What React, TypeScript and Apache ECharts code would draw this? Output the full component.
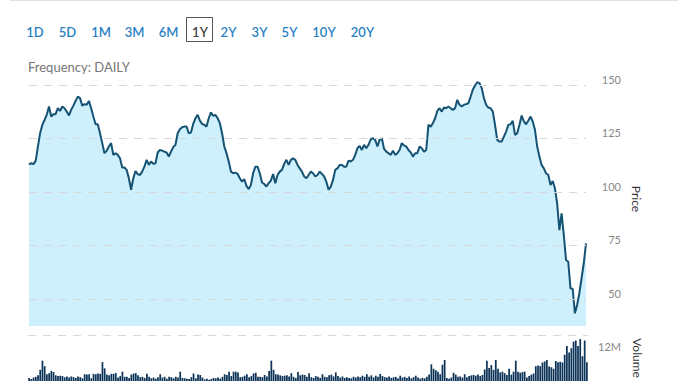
import React, { useEffect, useRef } from "react";
import * as echarts from "echarts";

// ---------- data ----------
const rangeButtons = ["1D", "5D", "1M", "3M", "6M", "1Y", "2Y", "3Y", "5Y", "10Y", "20Y"];
const selectedRange = "1Y";
const frequencyLabel = "Frequency: DAILY";
const priceTicks = [50, 75, 100, 125, 150];
const volumeTicks = [12];
const priceAxisName = "Price";
const volumeAxisName = "Volume";

// daily closing price, one year (252 trading days)
const price = [
  112.9, 113.4, 113, 114.5, 121, 127.4, 131.3, 133.6, 136, 139.9,
  135.2, 136.3, 136.3, 139.1, 137.8, 139.9, 139.1, 137.5, 135.7, 138.3,
  140.3, 142.5, 144.5, 143.8, 140.3, 141, 140.7, 142.5, 139.1, 135.2,
  131.6, 131.6, 127.4, 122.8, 118.1, 119.2, 121.2, 122.8, 117.3, 118.1,
  117.3, 115.7, 111.4, 111.4, 110.3, 106.4, 101, 106.4, 109.8, 108.3,
  107.9, 109.5,
  111.8, 115, 112.6, 114.2, 113.1, 113.4, 118.4, 119.6, 119.3, 118.8,
  118.4, 116.5, 118.8, 120.9, 122, 127.4, 129.3, 130.2, 130.5, 130.5,
  127.4, 127.7, 131.8, 134.4, 136, 133.3, 131.8, 131.3, 130.5, 134.4,
  137.1, 135.5, 136, 134.4, 132.1, 127.4, 121.2, 118.1, 114.2, 109.5,
  108.7, 109, 108.4, 106.4, 104.8, 105.9, 102.8, 101.3, 103.3, 108.7,
  111.8, 111.8,
  108.7, 104.4, 103.7, 102.5, 104.1, 105.3, 108.4, 104.1, 107.9, 109.5,
  110.3, 113.1, 115, 112.6, 115, 115.7, 115, 112.6, 111, 109.5,
  107.2, 106.4, 107.9, 109.5, 108.7, 107.2, 107.9, 109.5, 108.4, 107.2,
  104.8, 101, 102.5, 105.6, 110.3, 111, 112.6, 112.6, 111.8, 111.8,
  114.6, 114.2, 115, 117.3, 120.4, 121.5, 119.6, 122, 120.4, 122,
  124.6, 125.1,
  124.3, 121.2, 124.3, 125.1, 120.1, 118.8, 118.1, 117.3, 119.2, 117.3,
  118.1, 119.6, 122.8, 121.7, 121.2, 119.6, 118.5, 116.5, 118.1, 118.1,
  121.2, 120.4, 118.8, 119.6, 131.3, 130.5, 132.1, 134.4, 137.8, 139.1,
  137.5, 139.4, 139.1, 139.9, 139.1, 138.3, 139.1, 143, 140.7, 139.9,
  140.7, 141, 141.4, 144.5, 147.7, 149.7, 151.2, 150.8, 148.5, 143.8,
  140.7, 139.4,
  139.1, 137.5, 131.3, 124.3, 123.5, 123.5, 125.8, 128.2, 131.3, 131.6,
  133.2, 126.6, 127.4, 131.3, 135.7, 132.9, 131.6, 133.2, 135.2, 132.9,
  129, 121.2, 116.5, 112.6, 111, 108.7, 107.9, 103.2, 105.1, 101.7,
  94.7, 82.2, 90, 79.9, 68.2, 67.4, 55, 54.7, 43.3, 47.2,
  52.7, 59.7, 66.7, 76,
];

// daily volume, millions
const volume = [
  3.3, 3.0, 3.4, 3.6, 4.0, 5.5, 8.0, 6.5, 4.3, 4.6,
  5.2, 4.9, 4.0, 3.8, 3.9, 3.8, 3.5, 3.7, 3.4, 3.7,
  3.5, 3.3, 3.7, 3.5, 3.2, 4.3, 4.2, 4.3, 3.2, 4.4,
  4.3, 4.5, 4.4, 7.6, 5.9, 4.2, 4.0, 4.4, 4.4, 4.6,
  3.4, 3.8, 5.0, 3.6, 3.6, 3.3, 4.2, 4.5, 4.6, 4.0,
  3.5, 3.6, 3.3, 4.4, 3.6, 3.2, 3.4, 3.1, 3.5, 4.3,
  3.4, 3.6, 3.1, 3.6, 3.5, 3.2, 3.6, 3.4, 5.0, 3.3,
  3.2, 3.1, 3.0, 3.5, 4.5, 3.2, 4.2, 4.1, 3.4, 2.9,
  3.1, 2.8, 3.0, 3.3, 3.2, 3.4, 3.1, 3.6, 4.3, 4.1,
  5.0, 3.8, 5.0, 5.0, 4.8, 3.5, 3.6, 3.9, 4.3, 3.5,
  3.8, 4.5, 4.7, 3.6, 3.6, 3.5, 4.1, 3.7, 5.2, 8.0,
  5.5, 4.3, 4.2, 4.0, 3.8, 3.9, 4.0, 3.7, 4.6, 3.6,
  3.3, 4.9, 4.0, 4.2, 4.1, 3.6, 4.6, 3.5, 3.3, 3.8,
  3.6, 3.3, 4.3, 3.6, 3.5, 4.0, 4.2, 3.7, 4.8, 3.8,
  3.4, 3.7, 3.3, 3.5, 3.3, 3.2, 3.6, 3.4, 3.7, 3.5,
  3.9, 3.6, 4.3, 3.6, 4.0, 3.4, 3.9, 3.6, 4.4, 3.8,
  3.5, 3.4, 3.7, 3.3, 3.5, 3.6, 3.2, 3.9, 3.4, 3.6,
  3.3, 3.7, 3.2, 3.5, 3.9, 3.4, 3.1, 3.3, 3.2, 3.6,
  4.2, 7.0, 5.8, 5.4, 5.0, 4.3, 6.9, 8.2, 3.3, 3.1,
  3.4, 4.7, 4.2, 3.6, 3.7, 3.4, 4.3, 3.5, 3.8, 4.0,
  4.1, 3.9, 4.2, 3.8, 4.1, 5.6, 8.0, 6.0, 6.8, 5.5,
  8.2, 5.8, 4.8, 5.0, 4.6, 4.1, 5.8, 4.2, 5.0, 8.0,
  5.0, 4.7, 4.9, 5.0, 3.4, 3.8, 4.2, 4.5, 6.5, 6.7,
  6.5, 7.5, 7.8, 8.2, 6.4, 6.2, 5.8, 7.9, 7.6, 7.7,
  7.5, 9.6, 12.0, 10.2, 11.4, 13.2, 13.5, 12.0, 13.9, 9.2,
  13.5, 7.6,
];

const days = price.map((_, i) => `Day ${i + 1}`);

// ---------- layout (not data) ----------
const buttonCenters = [35, 67.5, 101, 134.5, 168.5, 200, 228.5, 259.5, 289.5, 324, 362.5];
const FONT = "Lato, 'Open Sans', sans-serif";

export default function App() {
  const ref = useRef<HTMLDivElement>(null);

  useEffect(() => {
    if (!ref.current) return;
    const chart = echarts.init(ref.current, null, { renderer: "svg" });

    const graphics: any[] = [
      {
        type: "line",
        shape: { x1: 10, y1: 0.5, x2: 678, y2: 0.5 },
        style: { stroke: "#e2e2e2", lineWidth: 1 },
      },
    ];
    rangeButtons.forEach((label, i) => {
      const selected = label === selectedRange;
      if (selected) {
        graphics.push({
          type: "rect",
          shape: { x: 186.5, y: 17.5, width: 26, height: 24 },
          style: { fill: "#ffffff", stroke: "#555555", lineWidth: 1 },
        });
      }
      graphics.push({
        type: "text",
        x: buttonCenters[i],
        y: 31.5,
        style: {
          text: label,
          fill: selected ? "#444444" : "#2a7fc4",
          font: `600 13px ${FONT}`,
          textAlign: "center",
          textVerticalAlign: "middle",
          align: "center",
          verticalAlign: "middle",
        },
      });
    });
    graphics.push({
      type: "text",
      x: 28,
      y: 67,
      style: {
        text: frequencyLabel,
        fill: "#777777",
        font: `13px ${FONT}`,
        textAlign: "left",
        textVerticalAlign: "middle",
        align: "left",
        verticalAlign: "middle",
      },
    });
    graphics.push({
      type: "text",
      x: 636,
      y: 199,
      rotation: -Math.PI / 2,
      style: {
        text: priceAxisName,
        fill: "#333333",
        font: `12px ${FONT}`,
        textAlign: "center",
        textVerticalAlign: "middle",
        align: "center",
        verticalAlign: "middle",
      },
    });
    graphics.push({
      type: "text",
      x: 637,
      y: 358,
      rotation: -Math.PI / 2,
      style: {
        text: volumeAxisName,
        fill: "#333333",
        font: `12px ${FONT}`,
        textAlign: "center",
        textVerticalAlign: "middle",
        align: "center",
        verticalAlign: "middle",
      },
    });

    const gridLine = {
      silent: true,
      symbol: "none",
      label: { show: false },
      lineStyle: { type: [8, 7], color: "#d8d8d8", width: 1 },
    };

    chart.setOption({
      animation: false,
      backgroundColor: "#ffffff",
      textStyle: { fontFamily: FONT },
      graphic: graphics,
      grid: [
        { left: 29, right: 92, top: 72, height: 254 },
        { left: 28, right: 90, top: 335, height: 55 },
      ],
      xAxis: [
        { type: "category", gridIndex: 0, data: days, boundaryGap: false, show: false },
        { type: "category", gridIndex: 1, data: days, boundaryGap: true, show: false },
      ],
      yAxis: [
        {
          type: "value",
          gridIndex: 0,
          position: "right",
          min: 37.4,
          max: 156,
          axisLine: { show: false },
          axisTick: { show: false },
          splitLine: { show: false },
          axisLabel: {
            customValues: priceTicks,
            align: "right",
            verticalAlign: "bottom",
            margin: 35,
            color: "#888888",
            fontSize: 11,
            fontFamily: FONT,
          },
        },
        {
          type: "value",
          gridIndex: 1,
          position: "right",
          min: 0,
          max: 15,
          axisLine: { show: false },
          axisTick: { show: false },
          splitLine: { show: false },
          axisLabel: {
            customValues: volumeTicks,
            formatter: (v: number) => `${v}M`,
            align: "right",
            margin: 33,
            color: "#888888",
            fontSize: 11,
            fontFamily: FONT,
          },
        },
      ],
      series: [
        {
          type: "line",
          xAxisIndex: 0,
          yAxisIndex: 0,
          data: price,
          symbol: "none",
          showSymbol: false,
          lineStyle: { color: "#155273", width: 2 },
          areaStyle: { color: "#cdf0fc", opacity: 1, origin: "start" },
          markLine: { ...gridLine, data: priceTicks.map((v) => ({ yAxis: v })) },
        },
        {
          type: "bar",
          xAxisIndex: 1,
          yAxisIndex: 1,
          data: volume,
          barCategoryGap: "22%",
          itemStyle: { color: "#0c3358" },
          markLine: { ...gridLine, data: [{ yAxis: 15 }] },
        },
      ],
    });

    return () => chart.dispose();
  }, []);

  return (
    <div
      style={{
        position: "fixed",
        left: 0,
        top: 0,
        width: 678,
        height: 381,
        overflow: "hidden",
        background: "#ffffff",
      }}
    >
      <div ref={ref} style={{ width: 678, height: 400 }} />
    </div>
  );
}
